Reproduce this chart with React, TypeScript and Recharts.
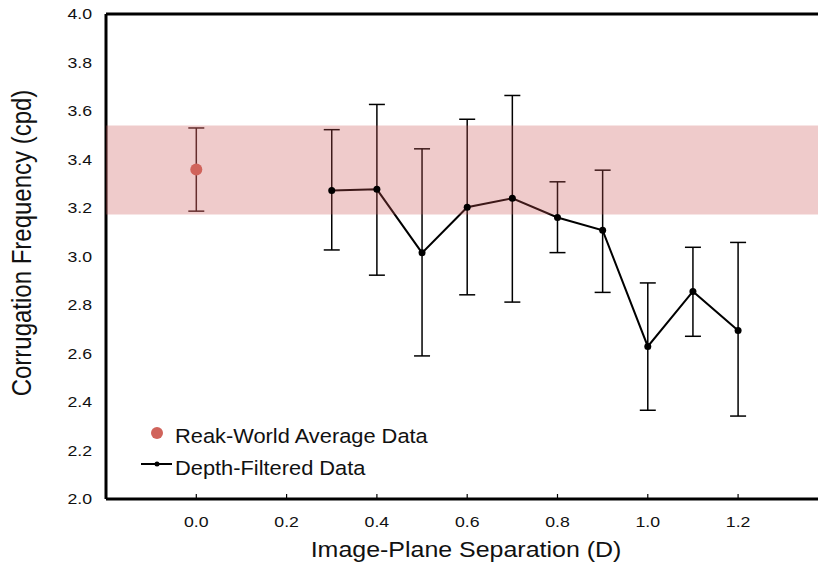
import React from 'react';
import {
  ComposedChart,
  Line,
  Scatter,
  XAxis,
  YAxis,
  ErrorBar,
  ReferenceArea,
  ReferenceLine,
  Legend,
} from 'recharts';

// image-plane separation (D) for the depth-filtered condition
const depthSeparation = [0.3, 0.4, 0.5, 0.6, 0.7, 0.8, 0.9, 1.0, 1.1, 1.2];
const depthMean = [3.272, 3.277, 3.015, 3.203, 3.24, 3.161, 3.108, 2.629, 2.856, 2.695];
const depthUpper = [3.523, 3.627, 3.444, 3.566, 3.664, 3.308, 3.356, 2.891, 3.038, 3.058];
const depthLower = [3.027, 2.923, 2.59, 2.842, 2.812, 3.016, 2.852, 2.366, 2.671, 2.342];

// real-world average (single point + shaded range)
const realSeparation = [0.0];
const realMean = [3.359];
const realUpper = [3.53];
const realLower = [3.187];
const realBand = [3.173, 3.54];

const xTicks = [0, 0.2, 0.4, 0.6, 0.8, 1.0, 1.2];
const yTicks = [2.0, 2.2, 2.4, 2.6, 2.8, 3.0, 3.2, 3.4, 3.6, 3.8, 4.0];

const depthData = depthSeparation.map((x, i) => ({
  x,
  y: depthMean[i],
  err: [depthMean[i] - depthLower[i], depthUpper[i] - depthMean[i]],
}));

const realData = realSeparation.map((x, i) => ({
  x,
  y: realMean[i],
  err: [realMean[i] - realLower[i], realUpper[i] - realMean[i]],
}));

const FONT = '"Liberation Sans", Arial, Helvetica, sans-serif';
const TEXT = '#111';
const RED = '#d0635b';

const XTick = (props: any) => {
  const { x, y, payload } = props;
  return (
    <g transform={`translate(${x},${y})`}>
      <line x1={0} x2={0} y1={-5} y2={0} stroke="#000" strokeWidth={1.2} />
      <text
        transform="translate(0,27.5) scale(1.18,1)"
        textAnchor="middle"
        fontSize={15}
        fontFamily={FONT}
        fill={TEXT}
      >
        {Number(payload.value).toFixed(1)}
      </text>
    </g>
  );
};

const YTick = (props: any) => {
  const { x, y, payload } = props;
  return (
    <text
      transform={`translate(${x - 14},${y + 5.4}) scale(1.18,1)`}
      textAnchor="end"
      fontSize={15}
      fontFamily={FONT}
      fill={TEXT}
    >
      {Number(payload.value).toFixed(1)}
    </text>
  );
};

const XTitle = () => (
  <text
    transform="translate(466,557) scale(1.135,1)"
    textAnchor="middle"
    fontSize={22}
    fontFamily={FONT}
    fill={TEXT}
  >
    Image-Plane Separation (D)
  </text>
);

const YTitle = () => (
  <text
    transform="translate(31,243) rotate(-90) scale(1,1.13)"
    textAnchor="middle"
    fontSize={24}
    fontFamily={FONT}
    fill={TEXT}
  >
    Corrugation Frequency (cpd)
  </text>
);

const LegendBox = () => (
  <svg width={300} height={62} style={{ display: 'block', overflow: 'visible' }}>
    <circle cx={17} cy={13} r={6} fill={RED} />
    <text transform="translate(35,23) scale(1.12,1)" fontSize={19.5} fontFamily={FONT} fill={TEXT}>
      Reak-World Average Data
    </text>
    <line x1={1} x2={32} y1={44} y2={44} stroke="#000" strokeWidth={2} />
    <circle cx={17} cy={44} r={2.5} fill="#000" />
    <text transform="translate(35,55) scale(1.12,1)" fontSize={19.5} fontFamily={FONT} fill={TEXT}>
      Depth-Filtered Data
    </text>
  </svg>
);

export default function App() {
  return (
    <div style={{ position: 'absolute', left: 0, top: 0, background: '#fff' }}>
      <ComposedChart width={818} height={566} margin={{ top: 14, right: 0, bottom: 0, left: 0 }}>
        <XAxis
          type="number"
          dataKey="x"
          domain={[-0.2, 1.377]}
          ticks={xTicks}
          allowDataOverflow
          height={67}
          axisLine={{ stroke: '#000', strokeWidth: 3 }}
          tickLine={false}
          tickSize={0}
          tickMargin={0}
          tick={<XTick />}
          label={{ content: () => <XTitle /> }}
        />
        <YAxis
          type="number"
          dataKey="y"
          domain={[2, 4]}
          ticks={yTicks}
          allowDataOverflow
          width={106}
          axisLine={{ stroke: '#000', strokeWidth: 3 }}
          tickLine={false}
          tickSize={0}
          tickMargin={0}
          tick={<YTick />}
          label={{ content: () => <YTitle /> }}
        />
        <ReferenceLine y={4} stroke="#000" strokeWidth={3} ifOverflow="visible" />
        <Line
          data={depthData}
          dataKey="y"
          stroke="#000"
          strokeWidth={2}
          dot={{ r: 3.5, fill: '#000', stroke: '#000', strokeWidth: 0 }}
          isAnimationActive={false}
        >
          <ErrorBar dataKey="err" direction="y" width={8} stroke="#000" strokeWidth={1.5} />
        </Line>
        {/* band sits over the depth-filtered line, as in the original */}
        <ReferenceArea
          y1={realBand[0]}
          y2={realBand[1]}
          fill="rgb(201,84,84)"
          fillOpacity={0.3}
          stroke="none"
          {...({ zIndex: 550 } as any)}
        />
        <Scatter
          data={realData}
          dataKey="y"
          fill={RED}
          shape={(p: any) => <circle cx={p.cx} cy={p.cy} r={6} fill={RED} />}
          isAnimationActive={false}
          {...({ zIndex: 700 } as any)}
        >
          <ErrorBar dataKey="err" direction="y" width={8} stroke="#3a1e1e" strokeWidth={1.5} />
        </Scatter>
        <Legend
          layout="vertical"
          align="center"
          verticalAlign="middle"
          wrapperStyle={{ left: 140, top: 420, width: 300 }}
          content={() => <LegendBox />}
        />
      </ComposedChart>
    </div>
  );
}
